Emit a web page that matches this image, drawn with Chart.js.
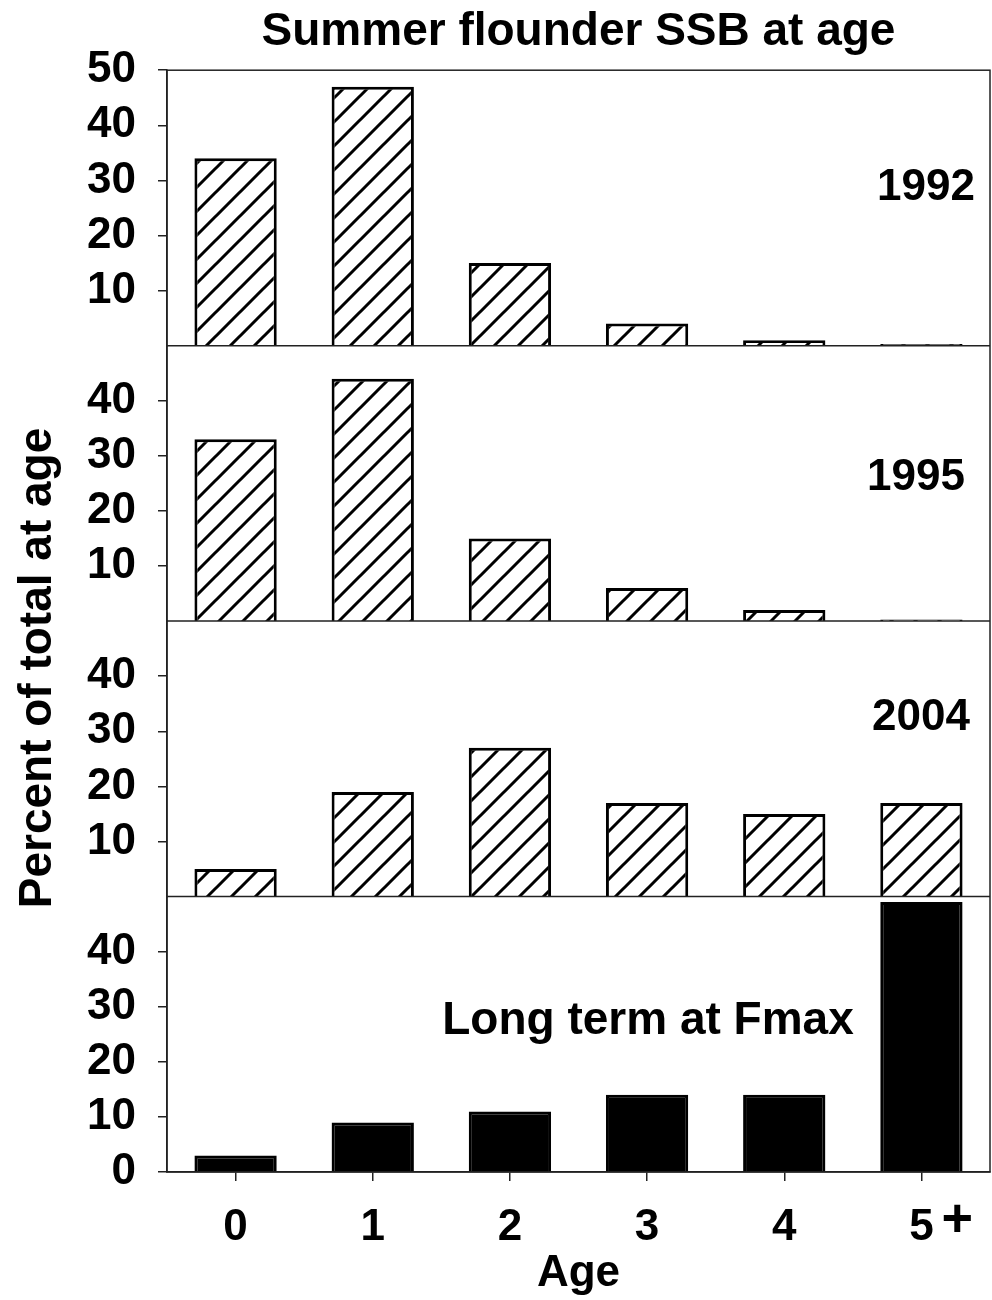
<!DOCTYPE html>
<html lang="en">
<head>
    <meta charset="UTF-8">
    <title>Summer flounder SSB at age</title>
    <script src="https://cdn.jsdelivr.net/npm/chart.js@4.4.1/dist/chart.umd.min.js"></script>
    <style>
        body { margin: 0; background: #fff; }
        #wrap { width: 992px; height: 1300px; position: relative; }
    </style>
</head>
<body>
<div id="wrap"><canvas id="myChart"></canvas></div>
<script>
    // data
    const ages = ['0', '1', '2', '3', '4', '5+']
    const ssb1992 = [34, 47, 15, 4, 1, 0.3]
    const ssb1995 = [33, 44, 15, 6, 2, 0.3]
    const ssb2004 = [5, 19, 27, 17, 15, 17]
    const ssbFmax = [3, 9, 11, 14, 14, 49]
    const panelNames = ['1992', '1995', '2004', 'Long term at Fmax']
    const panelTicks = [
        [10, 20, 30, 40, 50],
        [10, 20, 30, 40],
        [10, 20, 30, 40],
        [0, 10, 20, 30, 40]
    ]

    const FONT = '"Liberation Sans", Arial, sans-serif'
    const big = { family: FONT, size: 44, weight: 'bold' }
    const bigger = { family: FONT, size: 46, weight: 'bold' }
    const axisColor = '#222'

    let ctx = document.getElementById('myChart').getContext('2d')

    // diagonal hatch fill
    function makeHatch() {
        const c = document.createElement('canvas')
        c.width = 24
        c.height = 24
        const g = c.getContext('2d')
        g.fillStyle = '#fff'
        g.fillRect(0, 0, 24, 24)
        g.strokeStyle = '#000'
        g.lineWidth = 3
        g.beginPath()
        g.moveTo(-6, 30); g.lineTo(30, -6)
        g.moveTo(-6, 6); g.lineTo(6, -6)
        g.moveTo(18, 30); g.lineTo(30, 18)
        g.stroke()
        return ctx.createPattern(c, 'repeat')
    }
    const hatch = makeHatch()

    const series = [ssb1992, ssb1995, ssb2004, ssbFmax]
    const fills = [hatch, hatch, hatch, '#000']

    function panelScale(i) {
        return {
            type: 'linear',
            position: 'left',
            stack: 'panels',
            stackWeight: 1,
            weight: 3 - i,
            min: 0,
            max: 50,
            afterBuildTicks: s => { s.ticks = panelTicks[i].map(v => ({ value: v })) },
            afterFit: s => { s.width = 167 },
            grid: { drawOnChartArea: false, tickLength: 9, color: axisColor, lineWidth: 1.5 },
            border: { color: axisColor, width: 1.5 },
            ticks: { font: big, color: '#000', padding: 22, autoSkip: false }
        }
    }

    const scales = {
        x: {
            grid: { offset: false, drawOnChartArea: false, tickLength: 9, color: axisColor, lineWidth: 1.5 },
            border: { color: axisColor, width: 1.5 },
            ticks: {
                font: big,
                color: '#000',
                padding: 20,
                autoSkip: false,
                callback: function (v) { return ages[v].replace('+', '') }
            },
            title: { display: true, text: 'Age', font: big, color: '#000', padding: { top: 0, bottom: 0 } },
            afterFit: s => { s.height = 128 }
        }
    }
    series.forEach((d, i) => { scales['y' + i] = panelScale(i) })

    // frame, panel separators and text labels
    const decorations = {
        id: 'decorations',
        afterDraw(chart) {
            const g = chart.ctx
            const a = chart.chartArea
            g.save()
            g.strokeStyle = axisColor
            g.lineWidth = 1.5
            g.strokeRect(a.left, a.top, a.right - a.left, a.bottom - a.top)
            g.beginPath()
            for (let i = 1; i < series.length; i++) {
                const y = chart.scales['y' + i].top
                g.moveTo(a.left, y)
                g.lineTo(a.right, y)
            }
            g.stroke()

            g.fillStyle = '#000'
            g.textBaseline = 'middle'
            const spots = [
                { x: 975, v: 28.7, align: 'right', size: 44 },
                { x: 965, v: 26, align: 'right', size: 44 },
                { x: 970, v: 32.5, align: 'right', size: 44 },
                { x: 648, v: 27.3, align: 'center', size: 46 }
            ]
            spots.forEach((p, i) => {
                g.font = 'bold ' + p.size + 'px ' + FONT
                g.textAlign = p.align
                g.fillText(panelNames[i], p.x, chart.scales['y' + i].getPixelForValue(p.v))
            })

            // the "+" of 5+
            const xs = chart.scales.x
            g.textAlign = 'left'
            g.font = 'bold 54px ' + FONT
            g.fillText('+', xs.getPixelForValue(5) + 20, 1221)

            // y axis title
            g.font = 'bold 46px ' + FONT
            g.translate(38, 668)
            g.rotate(-Math.PI / 2)
            g.textAlign = 'center'
            g.fillText('Percent of total at age', 0, 0)
            g.restore()
        }
    }

    let chart = new Chart(ctx, {
        type: 'bar',
        data: {
            labels: ages,
            datasets: series.map((d, i) => ({
                label: panelNames[i],
                data: d,
                yAxisID: 'y' + i,
                backgroundColor: fills[i],
                borderColor: '#000',
                borderWidth: 3,
                grouped: false,
                barPercentage: 0.6,
                categoryPercentage: 1
            }))
        },
        options: {
            responsive: true,
            maintainAspectRatio: false,
            animation: false,
            layout: { padding: { left: 0, right: 2, top: 0, bottom: 0 } },
            scales: scales,
            plugins: {
                legend: { display: false },
                tooltip: { enabled: false },
                title: {
                    display: true,
                    fullSize: false,
                    text: 'Summer flounder SSB at age',
                    font: bigger,
                    color: '#000',
                    padding: { top: 5, bottom: 10 }
                }
            }
        },
        plugins: [decorations]
    })
</script>
</body>
</html>
